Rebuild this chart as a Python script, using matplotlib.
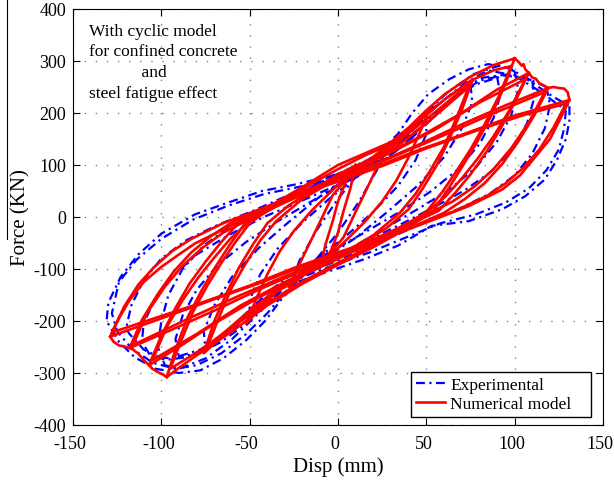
import numpy as np
import matplotlib
matplotlib.use("Agg")
import matplotlib.pyplot as plt
import matplotlib.transforms as mtransforms
from matplotlib.lines import Line2D

plt.rcParams['font.family'] = ['Liberation Serif', 'DejaVu Serif']
plt.rcParams['axes.unicode_minus'] = False

# experimental loops (disp mm, force kN)
exp_disp = [
    [131, 131, 129, 124, 117, 106, 93, 74, 53, 34, 15, -4, -23, -32, -41, -52, -65, -78, -90, -103,
     -115, -124, -131, -130, -123, -113, -100, -81, -62, -43, -25, -5, 10, 22, 34, 42, 51, 63, 74, 85,
     98, 110, 121, 131],
    [129, 128, 125, 118, 108, 95, 78, 58, 38, 18, -2, -20, -30, -40, -52, -66, -80, -92, -105, -117,
     -125, -128, -124, -114, -100, -82, -62, -42, -22, -2, 14, 26, 38, 48, 60, 72, 85, 100, 115, 129],
    [118, 120, 117, 110, 100, 86, 68, 48, 28, 8, -12, -28, -40, -52, -66, -82, -98, -110, -118, -120,
     -117, -110, -100, -86, -68, -48, -28, -8, 12, 28, 40, 52, 66, 82, 98, 110, 118],
    [110, 111, 107, 99, 87, 72, 55, 35, 15, -5, -22, -36, -48, -62, -78, -94, -106, -111, -110, -104,
     -94, -80, -62, -42, -20, 0, 20, 36, 48, 62, 78, 94, 106, 110],
    [100, 102, 98, 90, 78, 62, 45, 25, 5, -15, -30, -45, -60, -75, -90, -98, -102, -100, -96, -88,
     -76, -60, -43, -23, -3, 17, 32, 47, 62, 77, 92, 100],
    [90, 92, 88, 80, 68, 52, 35, 15, -5, -22, -38, -52, -66, -80, -90, -92, -88, -80, -68, -52,
     -35, -15, 5, 22, 38, 52, 66, 80, 90],
    [75, 76, 70, 60, 45, 28, 10, -10, -30, -50, -65, -75, -76, -70, -60, -45, -28, -10, 10, 30, 50, 65, 75],
    [50, 50, 44, 34, 20, 5, -10, -25, -40, -50, -50, -44, -34, -20, -5, 10, 25, 40, 50],
    [26, 22, 12, 0, -12, -26, -22, -12, 0, 12, 26],
]
exp_force = [
    [213, 185, 150, 110, 72, 40, 15, -8, -17, -55, -81, -103, -125, -158, -199, -237, -272, -295, -300, -292,
     -270, -240, -200, -165, -115, -72, -32, 5, 28, 50, 62, 78, 92, 120, 160, 200, 236, 265, 284, 294,
     285, 258, 233, 213],
    [205, 170, 130, 90, 55, 28, 5, -12, -40, -68, -92, -115, -145, -185, -225, -262, -285, -292, -280, -252,
     -220, -185, -125, -82, -42, -5, 22, 44, 58, 72, 90, 115, 150, 190, 225, 258, 282, 272, 240, 205],
    [250, 215, 170, 122, 80, 45, 15, -12, -42, -72, -100, -128, -165, -205, -240, -268, -275, -255, -225, -215,
     -170, -122, -80, -45, -15, 12, 42, 72, 100, 128, 165, 205, 240, 268, 275, 262, 250],
    [262, 228, 180, 132, 88, 52, 20, -15, -48, -82, -112, -142, -180, -222, -255, -272, -268, -240, -205, -160,
     -115, -72, -35, 0, 32, 62, 95, 135, 175, 222, 255, 272, 268, 262],
    [280, 245, 195, 145, 95, 50, 15, -25, -65, -100, -135, -185, -235, -272, -292, -285, -250, -200, -150, -100,
     -55, -15, 15, 45, 78, 110, 142, 190, 240, 275, 292, 280],
    [270, 235, 190, 140, 92, 48, 10, -30, -68, -100, -140, -185, -230, -262, -270, -235, -190, -140, -92, -48,
     -10, 30, 68, 100, 140, 185, 230, 262, 270],
    [255, 220, 170, 115, 60, 10, -40, -85, -130, -180, -225, -255, -220, -170, -115, -60, -10, 40, 85, 130, 180, 225, 255],
    [195, 160, 110, 60, 10, -35, -75, -115, -160, -195, -160, -110, -60, -10, 35, 75, 115, 160, 195],
    [130, 90, 30, -30, -80, -125, -85, -25, 35, 85, 130],
]

# numerical model loops
num_disp = [
    [10, 7, 3, 0, -4, -10, -7, -3, 0, 4, 10],
    [28, 22, 16, 10, 3, -5, -15, -28, -22, -16, -10, -3, 5, 15, 28],
    [52, 46, 40, 33, 25, 15, 0, -12, -25, -35, -44, -52, -46, -40, -33, -25, -15, 0, 12, 25, 35, 44, 52],
    [74, 67, 60, 52, 44, 35, 20, 0, -20, -35, -50, -62, -74, -67, -60, -52, -44, -35, -20, 0, 20, 35, 50, 62, 74],
    [76, 70, 63, 56, 48, 40, 28, 12, 0, -20, -35, -50, -63, -76, -70, -63, -56, -48, -40, -28, -12, 0,
     20, 35, 50, 63, 76],
    [98, 91, 83, 75, 67, 59, 50, 35, 15, 0, -20, -40, -60, -78, -95, -89, -82, -74, -66, -58, -50, -35,
     -15, 0, 15, 30, 45, 60, 75, 88, 98],
    [100, 94, 86, 78, 70, 62, 54, 40, 20, 0, -20, -40, -60, -80, -90, -97, -92, -85, -77, -69, -61, -53,
     -38, -18, 0, 15, 30, 40, 50, 60, 75, 88, 100],
    [106, 97, 88, 79, 70, 61, 50, 30, 10, -10, -30, -55, -80, -105, -97, -88, -79, -70, -61, -50, -30,
     -10, 10, 30, 55, 80, 106],
    [108, 100, 92, 84, 75, 66, 57, 40, 20, 0, -20, -45, -70, -90, -107, -100, -92, -84, -75, -66, -57,
     -40, -20, 0, 20, 45, 70, 90, 108],
    [117, 108, 98, 88, 77, 65, 50, 30, 10, -10, -30, -55, -85, -116, -108, -98, -88, -77, -65, -50, -30,
     -10, 10, 30, 55, 85, 117],
    [119, 111, 102, 93, 83, 72, 60, 40, 20, 0, -20, -45, -70, -95, -118, -111, -102, -93, -83, -72, -60,
     -40, -20, 0, 20, 45, 70, 95, 119],
    [129, 122, 114, 105, 95, 84, 65, 45, 25, 0, -25, -50, -80, -105, -128, -121, -113, -104, -94, -83,
     -65, -45, -25, 0, 25, 50, 80, 105, 129],
    [131, 126, 120, 112, 103, 93, 74, 55, 35, 15, 0, -20, -45, -70, -100, -129, -124, -118, -110, -100,
     -90, -81, -62, -43, -25, 0, 20, 45, 70, 100, 131],
    [100, 102, 104, 105, 106, 108, 110, 112, 114, 116, 119, 122, 125, 128, 130, 131],
    [-97, -99, -101, -103, -105, -107, -110, -113, -116, -118, -121, -124, -127, -129],
]
num_force = [
    [100, 55, 10, -30, -65, -95, -52, -8, 30, 65, 100],
    [138, 95, 52, 10, -40, -72, -100, -135, -92, -50, -8, 42, 74, 102, 138],
    [210, 160, 115, 70, 30, -10, -60, -92, -118, -145, -175, -205, -155, -110, -66, -27, 12, 62, 94, 120,
     147, 178, 210],
    [250, 190, 135, 88, 45, 8, -35, -75, -108, -140, -180, -215, -250, -190, -135, -88, -45, -8, 35, 75,
     108, 140, 180, 215, 250],
    [262, 205, 150, 100, 55, 15, -20, -55, -80, -112, -145, -185, -222, -262, -200, -146, -97, -52, -12,
     22, 57, 82, 114, 148, 188, 224, 262],
    [290, 232, 178, 130, 88, 48, 10, -22, -62, -88, -124, -165, -212, -256, -292, -240, -182, -132, -88,
     -48, -12, 24, 64, 92, 118, 140, 182, 225, 262, 282, 290],
    [305, 250, 190, 140, 95, 52, 12, -20, -58, -92, -128, -170, -220, -266, -290, -308, -255, -192, -140,
     -94, -52, -14, 22, 62, 100, 122, 144, 172, 205, 235, 270, 292, 305],
    [265, 205, 155, 112, 74, 40, 8, -30, -62, -92, -125, -170, -225, -275, -212, -160, -116, -78, -42,
     -8, 30, 62, 92, 124, 168, 220, 265],
    [277, 220, 170, 125, 82, 45, 12, -15, -48, -80, -112, -155, -205, -250, -285, -228, -175, -128, -86,
     -48, -14, 14, 46, 78, 110, 152, 200, 245, 277],
    [240, 182, 132, 92, 58, 30, 5, -28, -58, -86, -114, -150, -196, -246, -184, -134, -94, -60, -30,
     -4, 28, 58, 86, 114, 150, 195, 240],
    [248, 195, 145, 102, 65, 35, 8, -22, -52, -76, -103, -140, -180, -218, -252, -198, -148, -105, -68,
     -37, -10, 20, 50, 74, 101, 138, 178, 215, 248],
    [218, 172, 130, 95, 65, 40, 10, -15, -40, -68, -98, -132, -168, -196, -222, -172, -130, -96, -66,
     -42, -12, 14, 40, 68, 98, 132, 168, 196, 218],
    [225, 190, 150, 117, 80, 53, 21, -4, -30, -55, -72, -95, -128, -158, -195, -230, -195, -160, -125,
     -96, -72, -51, -19, 13, 40, 72, 95, 128, 158, 195, 225],
    [305, 299, 291, 294, 284, 277, 268, 266, 257, 254, 248, 250, 248, 247, 240, 225],
    [-308, -303, -300, -296, -292, -285, -275, -263, -255, -252, -249, -247, -240, -230],
]

note = "With cyclic model\nfor confined concrete\n            and\nsteel fatigue effect"

fig = plt.figure(figsize=(6.14, 4.81), dpi=100)
ax = fig.add_axes([73 / 614, 55 / 481, 530 / 614, 416 / 481])

blue_ls = (0, (4, 2, 1, 2))
for d, f in zip(exp_disp, exp_force):
    ax.plot(d, f, color='#0000ff', lw=1.6, linestyle=blue_ls)
for d, f in zip(num_disp, num_force):
    ax.plot(d, f, color='#ff0000', lw=1.9)

ax.set_xlim(-150, 150)
ax.set_ylim(-400, 400)
ax.set_xticks(np.arange(-150, 151, 50))
ax.set_yticks(np.arange(-400, 401, 100))
ax.tick_params(direction='in', top=True, right=True, labelsize=13, length=5)
ax.tick_params(axis='x', pad=7)
ax.tick_params(axis='y', pad=5)
# matlab puts the x labels a touch to the left
shift = mtransforms.ScaledTranslation(-3 / 100, 0, fig.dpi_scale_trans)
for lbl in ax.get_xticklabels():
    lbl.set_transform(lbl.get_transform() + shift)
ax.grid(True, color='#808080', linestyle=(0, (1, 7)), linewidth=1)
ax.set_xlabel('Disp (mm)', fontsize=15, labelpad=3)
ax.set_ylabel('Force (KN)', fontsize=15, labelpad=2)

ax.text(-141, 374, note, fontsize=12.5, va='top', ha='left', linespacing=1.41)

handles = [Line2D([], [], color='#0000ff', lw=1.6, linestyle=blue_ls),
           Line2D([], [], color='#ff0000', lw=1.9)]
ax.legend(handles, ['Experimental', 'Numerical model'], loc='lower left',
          bbox_to_anchor=((411 - 73) / 530, 8 / 416, 180 / 530, 0.1), mode='expand',
          borderaxespad=0, fontsize=12.5, fancybox=False, edgecolor='black', framealpha=1,
          handlelength=1.65, handletextpad=0.3, labelspacing=0.15, borderpad=0.3)

fig.add_artist(Line2D([7 / 614, 7 / 614], [1, 1 - 240 / 481], color='black', lw=0.8))

fig.savefig('out.png', dpi=100)
